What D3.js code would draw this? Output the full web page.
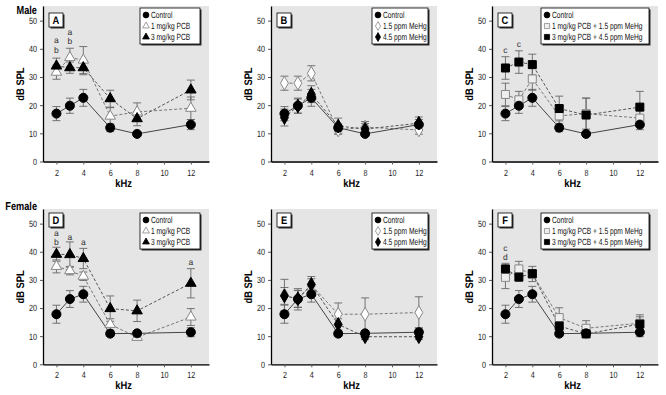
<!DOCTYPE html>
<html>
<head>
<meta charset="utf-8">
<script src="https://cdn.jsdelivr.net/npm/d3@7"></script>
<style>
  body { margin: 0; background: #fff; }
  svg text { font-family: "Liberation Sans", Arial, sans-serif; text-rendering: geometricPrecision; }
</style>
</head>
<body>
<div id="chart"></div>
<script>
// frequencies tested and axis ticks
const freqs = [2, 3, 4, 6, 8, 12];
const xTicks = [2, 4, 6, 8, 10, 12];
const yTicks = [0, 10, 20, 30, 40, 50];

// male thresholds (dB SPL) and error
const maleControl = [17.0, 19.8, 22.6, 12.0, 9.8, 13.1];
const maleControlErr = [2.5, 2.7, 3.0, 1.4, 0.6, 1.8];
const malePcb1 = [31.7, 36.9, 36.0, 16.1, 17.6, 18.9];
const malePcb1Err = [2.5, 3.3, 4.8, 3.0, 3.2, 4.0];
const malePcb3 = [33.9, 33.3, 33.3, 22.3, 15.2, 25.4];
const malePcb3Err = [2.8, 2.0, 2.5, 3.0, 2.5, 3.5];
const maleMeHg15 = [27.8, 27.8, 31.3, 11.2, 12.2, 11.2];
const maleMeHg15Err = [2.5, 2.5, 2.7, 1.5, 2.0, 1.5];
const maleMeHg45 = [15.6, 19.7, 23.9, 12.6, 11.5, 13.6];
const maleMeHg45Err = [3.0, 2.5, 3.0, 2.8, 2.0, 2.2];
const maleComboLow = [23.8, 21.9, 29.3, 16.2, 17.0, 15.4];
const maleComboLowErr = [4.0, 3.0, 4.0, 3.5, 5.5, 3.0];
const maleComboHigh = [33.2, 35.3, 34.4, 18.8, 16.5, 19.3];
const maleComboHighErr = [4.0, 4.0, 3.7, 4.4, 6.0, 5.6];

// female thresholds
const femaleControl = [17.8, 23.2, 24.9, 10.9, 11.0, 11.4];
const femaleControlErr = [3.2, 3.0, 2.8, 1.0, 1.0, 1.6];
const femalePcb1 = [34.8, 33.3, 31.3, 14.2, 9.6, 16.8];
const femalePcb1Err = [2.3, 1.5, 1.5, 2.0, 1.0, 3.0];
const femalePcb3 = [39.1, 39.0, 37.6, 19.8, 19.0, 28.8];
const femalePcb3Err = [2.5, 4.5, 3.6, 4.5, 3.8, 5.2];
const femaleMeHg15 = [24.6, 23.1, 28.2, 17.8, 17.8, 18.4];
const femaleMeHg15Err = [5.6, 3.8, 3.0, 4.0, 5.8, 5.6];
const femaleMeHg45 = [24.3, 23.3, 28.4, 14.2, 9.8, 9.8];
const femaleMeHg45Err = [3.0, 3.0, 2.0, 2.0, 1.0, 1.0];
const femaleComboLow = [30.9, 33.9, 32.1, 16.6, 12.8, 14.6];
const femaleComboLowErr = [4.0, 2.7, 2.7, 3.5, 2.7, 3.0];
const femaleComboHigh = [33.9, 31.0, 32.2, 13.6, 10.8, 14.3];
const femaleComboHighErr = [2.0, 1.5, 1.5, 1.6, 1.0, 2.6];

// significance letters [kHz, dB, letter]
const notesA = [[2, 43.1, 'a'], [2, 39.6, 'b'], [3, 45.9, 'a'], [3, 42.6, 'b']];
const notesC = [[2, 39.6, 'c'], [3, 41.6, 'c']];
const notesD = [[2, 46.8, 'a'], [2, 43.4, 'b'], [3, 45.4, 'a'], [4, 43.6, 'a'], [12, 36.5, 'a']];
const notesF = [[2, 41.5, 'c'], [2, 38.3, 'd']];

const W = 666, H = 395;
const svg = d3.select('#chart').append('svg')
  .attr('width', W).attr('height', H);

// squeeze text horizontally around its own x, to mimic the condensed face
function condense(sel, k) {
  sel.each(function () {
    const t = d3.select(this);
    const x0 = +t.attr('x') || 0;
    t.attr('transform', `translate(${x0},0) scale(${k},1) translate(${-x0},0)`);
  });
}

// marker styles
const styles = {
  control: { shape: d3.symbolCircle, size: 64, fill: '#000', stroke: '#000', dash: null, line: '#444' },
  openTri: { shape: d3.symbolTriangle, size: 48, fill: '#fff', stroke: '#888', dash: '3,2', line: '#777' },
  fillTri: { shape: d3.symbolTriangle, size: 48, fill: '#000', stroke: '#000', dash: '3,2', line: '#555' },
  openDia: { shape: d3.symbolDiamond, size: 54, fill: '#fff', stroke: '#888', dash: '3,2', line: '#777' },
  fillDia: { shape: d3.symbolDiamond, size: 54, fill: '#000', stroke: '#000', dash: '3,2', line: '#555' },
  openSq: { shape: d3.symbolSquare, size: 64, fill: '#eee', stroke: '#888', dash: '3,2', line: '#777' },
  fillSq: { shape: d3.symbolSquare, size: 64, fill: '#000', stroke: '#000', dash: '3,2', line: '#555' }
};

const panels = [
  { letter: 'A', left: 43, row: 0, lw: 60, notes: notesA,
    series: [
      { name: '1 mg/kg PCB', st: 'openTri', v: malePcb1, e: malePcb1Err },
      { name: '3 mg/kg PCB', st: 'fillTri', v: malePcb3, e: malePcb3Err },
      { name: 'Control', st: 'control', v: maleControl, e: maleControlErr }] },
  { letter: 'B', left: 271, row: 0, lw: 56, notes: [],
    series: [
      { name: '1.5 ppm MeHg', st: 'openDia', v: maleMeHg15, e: maleMeHg15Err },
      { name: 'Control', st: 'control', v: maleControl, e: maleControlErr },
      { name: '4.5 ppm MeHg', st: 'fillDia', v: maleMeHg45, e: maleMeHg45Err }] },
  { letter: 'C', left: 492, row: 0, lw: 108, notes: notesC,
    series: [
      { name: '1 mg/kg PCB + 1.5 ppm MeHg', st: 'openSq', v: maleComboLow, e: maleComboLowErr },
      { name: '3 mg/kg PCB + 4.5 ppm MeHg', st: 'fillSq', v: maleComboHigh, e: maleComboHighErr },
      { name: 'Control', st: 'control', v: maleControl, e: maleControlErr }] },
  { letter: 'D', left: 43, row: 1, lw: 60, notes: notesD,
    series: [
      { name: '1 mg/kg PCB', st: 'openTri', v: femalePcb1, e: femalePcb1Err },
      { name: '3 mg/kg PCB', st: 'fillTri', v: femalePcb3, e: femalePcb3Err },
      { name: 'Control', st: 'control', v: femaleControl, e: femaleControlErr }] },
  { letter: 'E', left: 271, row: 1, lw: 56, notes: [],
    series: [
      { name: '1.5 ppm MeHg', st: 'openDia', v: femaleMeHg15, e: femaleMeHg15Err },
      { name: 'Control', st: 'control', v: femaleControl, e: femaleControlErr },
      { name: '4.5 ppm MeHg', st: 'fillDia', v: femaleMeHg45, e: femaleMeHg45Err }] },
  { letter: 'F', left: 492, row: 1, lw: 108, notes: notesF,
    series: [
      { name: '1 mg/kg PCB + 1.5 ppm MeHg', st: 'openSq', v: femaleComboLow, e: femaleComboLowErr },
      { name: '3 mg/kg PCB + 4.5 ppm MeHg', st: 'fillSq', v: femaleComboHigh, e: femaleComboHighErr },
      { name: 'Control', st: 'control', v: femaleControl, e: femaleControlErr }] }
];

// legend order (control first)
const legendOrder = { control: 0, openTri: 1, openDia: 1, openSq: 1, fillTri: 2, fillDia: 2, fillSq: 2 };

const rows = [
  { top: 6, bottom: 161.5, box: 13, leg: 8 },
  { top: 209, bottom: 364.3, box: 213, leg: 213 }
];
const pw = 166;

svg.append('text').attr('x', 37).attr('y', 14).attr('text-anchor', 'end')
  .attr('font-size', 11.5).attr('font-weight', 'bold').text('Male').call(condense, 0.8);
svg.append('text').attr('x', 37).attr('y', 210).attr('text-anchor', 'end')
  .attr('font-size', 11.5).attr('font-weight', 'bold').text('Female').call(condense, 0.8);

panels.forEach(p => {
  const r = rows[p.row];
  const x = d3.scaleLinear().domain([1, 13.35]).range([p.left, p.left + pw]);
  const y = d3.scaleLinear().domain([0, 55.2]).range([r.bottom, r.top]);
  const g = svg.append('g');

  g.append('rect').attr('x', p.left).attr('y', r.top)
    .attr('width', pw).attr('height', r.bottom - r.top + 1.5)
    .attr('fill', '#e5e5e5');

  const xa = g.append('g').attr('transform', `translate(0,${r.bottom})`)
    .call(d3.axisBottom(x).tickValues(xTicks).tickSize(3).tickSizeOuter(0));
  const ya = g.append('g').attr('transform', `translate(${p.left},0)`)
    .call(d3.axisLeft(y).tickValues(yTicks).tickSize(3).tickSizeOuter(0));
  [xa, ya].forEach(a => {
    a.select('.domain').attr('stroke', '#000').attr('stroke-width', 1.3);
    a.selectAll('.tick line').attr('stroke', '#555');
    a.selectAll('.tick text').attr('font-size', 9).attr('fill', '#222')
      .attr('font-family', '"Liberation Sans", Arial, sans-serif');
  });
  ya.selectAll('.tick text').attr('x', -6);
  xa.selectAll('.tick text').attr('dy', '0.9em');
  ya.selectAll('.tick text').call(condense, 0.8);
  xa.selectAll('.tick text').call(condense, 0.8);

  g.append('text').attr('x', x(7)).attr('y', r.bottom + 25)
    .attr('text-anchor', 'middle').attr('font-size', 11).attr('font-weight', 'bold')
    .text('kHz').call(condense, 0.85);
  g.append('text')
    .attr('transform', `translate(${p.left - 19},${y(27.5)}) rotate(-90) scale(0.85,1)`)
    .attr('text-anchor', 'middle').attr('font-size', 11).attr('font-weight', 'bold').text('dB SPL');

  // lines
  const line = d3.line().x((d, i) => x(freqs[i])).y(d => y(d));
  p.series.forEach(s => {
    const st = styles[s.st];
    g.append('path').attr('d', line(s.v)).attr('fill', 'none')
      .attr('stroke', st.line).attr('stroke-width', 1)
      .attr('stroke-dasharray', st.dash);
  });
  // error bars
  p.series.forEach(s => {
    const eb = g.append('g').attr('stroke', '#666').attr('stroke-width', 0.9);
    s.v.forEach((v, i) => {
      const cx = x(freqs[i]);
      const y1 = y(v + s.e[i]), y0 = y(v - s.e[i]);
      eb.append('line').attr('x1', cx).attr('x2', cx).attr('y1', y1).attr('y2', y0);
      eb.append('line').attr('x1', cx - 4).attr('x2', cx + 4).attr('y1', y1).attr('y2', y1);
      eb.append('line').attr('x1', cx - 4).attr('x2', cx + 4).attr('y1', y0).attr('y2', y0);
    });
  });
  // markers
  p.series.forEach(s => {
    const st = styles[s.st];
    const sym = d3.symbol().type(st.shape).size(st.size);
    g.selectAll(null).data(s.v).join('path')
      .attr('d', sym)
      .attr('transform', (d, i) => `translate(${x(freqs[i])},${y(d)})`)
      .attr('fill', st.fill).attr('stroke', st.stroke).attr('stroke-width', 1);
  });

  // significance letters
  g.selectAll(null).data(p.notes).join('text')
    .attr('x', d => x(d[0])).attr('y', d => y(d[1]) + 3)
    .attr('text-anchor', 'middle').attr('font-size', 8.5).attr('fill', '#333')
    .text(d => d[2]);

  // panel letter box
  const bx = p.left + 6, by = r.box;
  g.append('rect').attr('x', bx + 1.5).attr('y', by + 1.5).attr('width', 14).attr('height', 14).attr('fill', '#333');
  g.append('rect').attr('x', bx).attr('y', by).attr('width', 14).attr('height', 14)
    .attr('fill', '#fff').attr('stroke', '#000').attr('stroke-width', 0.8);
  g.append('text').attr('x', bx + 7).attr('y', by + 11).attr('text-anchor', 'middle')
    .attr('font-size', 11).attr('font-weight', 'bold').text(p.letter).call(condense, 0.85);

  // legend
  const lx = p.left + pw - 9 - p.lw, ly = r.leg, lh = 36;
  g.append('rect').attr('x', lx + 1.5).attr('y', ly + 1.5).attr('width', p.lw).attr('height', lh).attr('fill', '#333');
  g.append('rect').attr('x', lx).attr('y', ly).attr('width', p.lw).attr('height', lh)
    .attr('fill', '#fff').attr('stroke', '#000').attr('stroke-width', 0.8);
  const items = p.series.slice().sort((a, b) => legendOrder[a.st] - legendOrder[b.st]);
  items.forEach((s, i) => {
    const st = styles[s.st];
    const cy = ly + 7 + i * 11;
    g.append('path').attr('d', d3.symbol().type(st.shape).size(st.size * 0.42))
      .attr('transform', `translate(${lx + 6},${cy})`)
      .attr('fill', st.fill).attr('stroke', st.stroke).attr('stroke-width', 0.8);
    g.append('text').attr('x', lx + 11).attr('y', cy + 3.2)
      .attr('font-size', 9).attr('fill', '#111').text(s.name).call(condense, 0.74);
  });
});
</script>
</body>
</html>
